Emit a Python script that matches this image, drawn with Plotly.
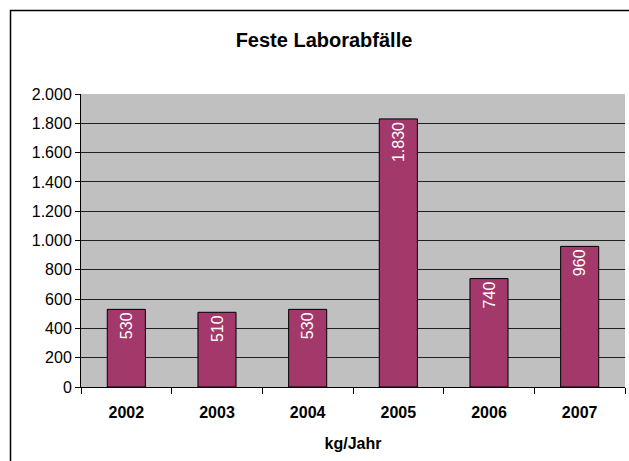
import plotly.graph_objects as go

# Data
years = ["2002", "2003", "2004", "2005", "2006", "2007"]
amounts = [530, 510, 530, 1830, 740, 960]
y_ticks = [0, 200, 400, 600, 800, 1000, 1200, 1400, 1600, 1800, 2000]

W, H = 629, 461
ml, mr, mt, mb = 81, 4, 94, 74
pw, ph = W - ml - mr, H - mt - mb

fig = go.Figure(go.Bar(
    x=years, y=amounts,
    marker=dict(color="#A3386B", line=dict(color="black", width=1)),
    texttemplate="%{y:,d}",
    textposition="inside",
    insidetextanchor="end",
    textangle=-90,
    textfont=dict(color="white", size=16, family="Liberation Sans, Arial"),
    width=0.42,
))

# outer chart border (extends past right and bottom edges)
fig.add_shape(type="rect", xref="paper", yref="paper",
              x0=(10.5 - ml) / pw, x1=(W + 20 - ml) / pw,
              y0=-(H + 20 - mt - ph) / ph, y1=(H - 10.5 - mb) / ph,
              line=dict(color="black", width=1.5), layer="below")

fig.update_layout(
    width=W, height=H,
    margin=dict(l=ml, r=mr, t=mt, b=mb),
    paper_bgcolor="white",
    plot_bgcolor="#C0C0C0",
    separators=",.",
    showlegend=False,
    font=dict(family="Liberation Sans, Arial", size=16, color="black"),
    title=dict(text="<b>Feste Laborabfälle</b>", x=324 / W, xanchor="center",
               y=1 - 40 / H, yanchor="middle", font=dict(size=20)),
    xaxis=dict(
        type="category",
        tickfont=dict(size=16),
        ticklabelstandoff=11,
        tickvals=years,
        ticktext=["<b>%s</b>" % y for y in years],
        showline=True, linecolor="black", linewidth=1,
        ticks="outside", tickson="boundaries", ticklen=6, tickcolor="black",
        title=dict(text="<b>kg/Jahr</b>", font=dict(size=16), standoff=17),
    ),
    yaxis=dict(
        range=[0, 2000],
        tickvals=y_ticks,
        tickformat=",d",
        showgrid=True, gridcolor="#202020", gridwidth=1,
        showline=True, linecolor="black", linewidth=1,
        ticks="outside", ticklen=5, tickcolor="black",
        zeroline=False,
    ),
)

fig.write_html("out.html", config={"displayModeBar": False},
               post_script="document.body.style.margin='0';")
